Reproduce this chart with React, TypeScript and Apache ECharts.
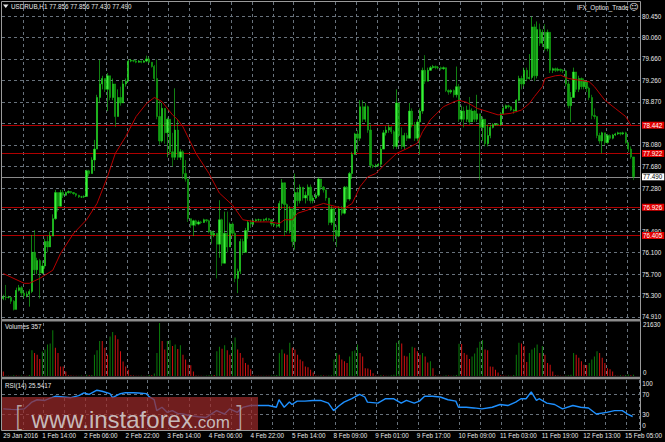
import React, { useEffect, useRef } from "react";
import * as echarts from "echarts";

const SLOTS = 245;
const FIRST_OPEN = 75.25;

const CLOSES = [
  75.28, 75.27, 75.27, 75.2, 75.05, 75.4, 75.45, 75.35, 75.3, 75.33,
  75.38, 76.1, 75.78, 75.95, 75.72, 75.85, 76.3, 76.2, 76.4, 76.72,
  77.2, 76.95, 77.2, 77.15, 77.2, 77.22, 77.2, 77.18, 77.15, 77.12,
  77.12, 77.13, 77.6, 77.55, 77.8, 78.0, 78.95, 79.2, 79.3, 79.1,
  79.35, 78.95, 79.2, 78.6, 78.95, 78.85, 79.2, 79.25, 79.62, 79.63,
  79.62, 79.6, 79.62, 79.6, 79.62, 79.66, 79.6, 79.52, 79.3, 78.6,
  78.15, 78.75, 78.3, 78.55, 77.95, 77.85, 78.35, 77.85, 77.95, 77.55,
  77.45, 76.72, 76.6, 76.68, 76.62, 76.66, 76.65, 76.7, 76.68, 76.48,
  76.42, 76.45, 76.25, 76.7, 75.9, 76.45, 76.2, 76.62, 76.45, 75.62,
  75.75, 76.3, 76.1, 76.5, 76.65, 76.62, 76.68, 76.7, 76.7, 76.69,
  76.7, 76.72, 76.7, 76.62, 76.6, 76.58, 77.0, 77.38, 76.98, 76.5,
  76.9, 76.3, 77.2, 77.05, 77.3, 77.1, 77.15, 77.3, 77.05, 77.1,
  77.15, 77.45, 77.3, 77.25, 77.1, 76.65, 76.9, 76.5, 76.4, 76.9,
  76.82, 77.3, 77.08, 77.55, 77.9, 78.28, 78.2, 78.78, 78.55, 78.78,
  78.35, 77.7, 77.68, 77.7, 77.72, 78.0, 78.3, 78.35, 78.4, 78.32,
  78.05, 78.85, 78.25, 78.05, 78.25, 78.2, 78.7, 78.45, 78.2, 78.5,
  78.7, 79.45, 79.25, 79.45, 79.5, 79.52, 79.5, 79.5, 79.48, 79.5,
  79.08, 79.05, 79.08, 79.0, 79.15, 78.55, 78.7, 78.55, 78.72, 78.5,
  78.7, 78.55, 78.65, 78.4, 78.55, 78.1, 78.25, 78.4, 78.45, 78.46,
  78.45, 78.65, 78.75, 78.8, 78.78, 78.72, 78.7, 78.9, 79.3, 79.2,
  79.45, 79.3, 79.32, 80.25, 79.35, 80.2, 79.95, 80.15, 79.85, 80.15,
  79.45, 79.48, 79.45, 79.47, 79.45, 79.44, 79.2, 78.8, 78.95, 79.42,
  79.1, 79.3, 79.15, 79.25, 79.12, 78.95, 78.62, 78.6, 78.25, 78.15,
  78.3, 78.12, 78.25, 78.2, 78.26, 78.28, 78.3, 78.28, 78.3, 78.12,
  78.0, 77.856, 77.49,
];

const HIGHS = [
  75.32, 75.5, 75.3, 75.28, 75.22, 75.45, 75.5, 75.48, 75.4, 75.38,
  75.42, 76.42, 76.51, 76.0, 75.98, 75.95, 76.35, 76.4, 76.48, 76.8,
  77.25, 77.2, 77.25, 77.25, 77.22, 77.24, 77.23, 77.21, 77.19, 77.16,
  77.14, 77.15, 77.62, 77.62, 77.85, 78.17, 79.0, 79.64, 79.35, 79.3,
  79.4, 79.3, 79.3, 79.2, 79.1, 79.15, 79.27, 79.3, 79.65, 79.66,
  79.65, 79.64, 79.64, 79.63, 79.64, 79.72, 79.7, 79.6, 79.55, 79.65,
  78.9, 78.85, 78.6, 78.58, 78.35, 78.3, 79.12, 78.55, 78.0, 77.98,
  77.8, 77.45, 76.7, 76.7, 76.7, 76.69, 76.68, 76.72, 76.71, 76.7,
  76.5, 76.5, 76.45, 77.06, 76.72, 76.85, 76.85, 76.65, 76.65, 76.5,
  75.8, 76.35, 76.35, 76.55, 76.68, 76.7, 76.7, 76.72, 76.72, 76.71,
  76.72, 76.74, 76.73, 76.71, 76.64, 76.62, 77.05, 77.45, 77.3, 77.0,
  76.95, 76.9, 77.55, 77.3, 77.35, 77.3, 77.22, 77.35, 77.35, 77.15,
  77.2, 77.48, 77.45, 77.32, 77.25, 77.1, 76.95, 76.92, 76.6, 76.95,
  76.95, 77.32, 77.32, 77.58, 77.95, 78.3, 78.35, 78.9, 78.9, 78.85,
  78.8, 78.45, 77.72, 77.73, 77.74, 78.05, 78.35, 78.42, 78.45, 78.42,
  78.35, 79.1, 78.85, 78.4, 78.3, 78.3, 78.85, 78.75, 78.5, 78.55,
  78.75, 79.5, 79.73, 79.5, 79.53, 79.55, 79.54, 79.53, 79.52, 79.52,
  79.5, 79.1, 79.1, 79.1, 79.52, 79.2, 78.8, 78.78, 78.8, 78.96,
  78.75, 78.72, 79.0, 78.6, 78.6, 78.55, 78.45, 78.45, 78.48, 78.48,
  78.48, 78.68, 78.8, 78.82, 78.82, 78.79, 78.74, 78.92, 79.35, 79.35,
  79.5, 79.5, 79.75, 80.44, 80.3, 80.35, 80.31, 80.2, 80.3, 80.2,
  80.15, 79.5, 79.5, 79.5, 79.48, 79.47, 79.46, 79.25, 79.05, 79.5,
  79.42, 79.35, 79.32, 79.3, 79.25, 79.15, 79.0, 78.75, 78.6, 78.3,
  78.32, 78.3, 78.28, 78.27, 78.28, 78.3, 78.32, 78.31, 78.32, 78.32,
  78.12, 78.05, 77.856,
];

const LOWS = [
  75.22, 75.22, 75.25, 75.15, 75.03, 75.05, 75.38, 75.3, 75.25, 75.27,
  75.1, 75.35, 75.7, 75.7, 75.25, 75.7, 75.8, 76.1, 76.25, 76.4,
  76.7, 76.85, 76.95, 77.1, 77.14, 77.18, 77.18, 77.16, 77.12, 77.1,
  77.1, 77.1, 77.12, 77.5, 77.55, 77.6, 78.0, 78.85, 79.1, 79.05,
  78.7, 78.9, 78.9, 78.41, 78.7, 78.8, 78.85, 79.15, 79.25, 79.6,
  79.6, 79.58, 79.59, 79.58, 79.59, 79.6, 79.58, 79.5, 79.25, 78.55,
  78.08, 78.12, 78.1, 77.85, 77.9, 77.68, 77.8, 77.8, 77.8, 77.45,
  77.4, 76.66, 76.55, 76.4, 76.58, 76.6, 76.62, 76.64, 76.65, 76.45,
  76.26, 76.38, 75.62, 76.0, 75.85, 75.95, 76.1, 76.2, 76.4, 75.55,
  75.35, 75.7, 76.05, 76.1, 76.35, 76.55, 76.6, 76.66, 76.67, 76.66,
  76.67, 76.68, 76.68, 76.58, 76.57, 76.55, 76.55, 76.9, 76.4, 76.45,
  76.45, 76.2, 76.15, 76.95, 77.0, 77.05, 77.0, 77.05, 77.0, 77.0,
  77.08, 77.12, 77.25, 77.2, 77.05, 76.6, 76.6, 76.3, 76.2, 76.38,
  76.78, 76.8, 77.02, 77.05, 77.45, 77.9, 77.95, 78.15, 78.5, 78.5,
  78.3, 77.65, 77.65, 77.66, 77.68, 77.68, 78.0, 78.25, 78.3, 78.28,
  78.0, 78.0, 78.15, 78.0, 78.0, 78.15, 78.2, 78.4, 78.15, 78.15,
  77.9, 78.65, 79.2, 79.25, 79.44, 79.48, 79.47, 79.47, 79.45, 79.46,
  79.05, 79.0, 79.02, 78.95, 78.95, 78.5, 78.5, 78.4, 78.5, 78.45,
  78.5, 78.5, 78.5, 77.43, 78.15, 78.05, 78.05, 78.2, 78.38, 78.43,
  78.43, 78.43, 78.64, 78.74, 78.75, 78.7, 78.65, 78.68, 78.88, 79.1,
  79.15, 79.25, 79.28, 79.28, 79.25, 79.3, 79.9, 79.88, 79.8, 79.8,
  79.4, 79.4, 79.42, 79.43, 79.42, 79.4, 79.15, 78.75, 78.5, 78.95,
  79.05, 79.05, 79.1, 79.1, 79.05, 78.9, 78.55, 78.55, 78.2, 78.1,
  77.92, 78.08, 78.1, 78.17, 78.18, 78.24, 78.26, 78.25, 78.26, 78.1,
  77.95, 77.82, 77.43,
];

const VOLUMES = [
  1800,
  150, 100, 120, 300, 250, 150, 200, 150, 120, 400,
  10500, 9400, 8700, 6900, 10000, 10800, 12900, 13300, 18700, 11500, 9400, 3900, 3900, 1800,
  300, 200, 150, 100, 150, 200, 100, 500, 300, 400,
  8700, 10500, 14300, 14300, 11500, 8700, 16100, 18000, 16600, 15000, 10100, 5900, 3900, 2500,
  300, 200, 150, 100, 200, 100, 150, 400, 300, 1000,
  9400, 21630, 14300, 10800, 14300, 14600, 12200, 12900, 11000, 12500, 8700, 6700, 4600, 4400, 1800,
  200, 150, 100, 150, 200, 300, 500, 400,
  10100, 11900, 11100, 12500, 10500, 8700, 13600, 15700, 10800, 9400, 7400, 5300, 4600, 2800,
  200, 150, 100, 100, 150, 120, 100, 200, 300, 400,
  9400, 10800, 9200, 8700, 13600, 11500, 10800, 8700, 6700, 6000, 3900, 3600, 2500, 1400,
  200, 150, 300, 200, 150, 250, 300,
  6700, 9400, 8700, 6700, 6000, 5300, 8000, 10100, 10400, 12900, 9400, 8000, 3200, 3100, 2500, 1100,
  200, 150, 300, 200, 100, 150, 300, 500,
  13600, 14700, 13300, 8300, 8000, 9400, 11900, 11500, 10100, 8700, 9400, 8000, 5500, 6000, 3200,
  200, 150, 100, 150, 300, 200, 150, 250, 400,
  13200, 13100, 9400, 8700, 6900, 8000, 9200, 11500, 14000, 14700, 10800, 10500, 3900, 3800, 2500, 1400,
  300, 200, 150, 200, 150, 400,
  8700, 13600, 13300, 12200, 5700, 9400, 10800, 11500, 12900, 9400, 12200, 8700, 5300, 4600, 1800, 300,
  200, 150, 100, 200, 300, 500,
  9400, 8700, 7400, 6000, 4600, 4500, 5300, 6700, 8000, 10100, 9400, 7400, 5300, 3200, 2800, 1800,
  200, 150, 300, 200, 400, 600, 300, 500,
];
const VOL_MAX = 21630;

const MA_POINTS = [
  [0, 75.71], [8, 75.53], [10, 75.53], [14, 75.62], [19, 75.77], [22, 76.08], [27, 76.45],
  [32, 76.7], [36, 77.0], [40, 77.49], [43, 77.92], [47, 78.23], [51, 78.6], [55, 78.84],
  [58, 78.95], [60, 78.9], [61, 78.87], [65, 78.63], [67, 78.54], [69, 78.41], [74, 77.92],
  [79, 77.55], [83, 77.19], [88, 76.97], [92, 76.7], [97, 76.66], [102, 76.66], [106, 76.63],
  [108, 76.7], [111, 76.7], [113, 76.82], [117, 76.88], [119, 76.94], [123, 77.0], [128, 76.94],
  [131, 76.91], [134, 77.0], [137, 77.31], [140, 77.49], [143, 77.55], [147, 77.74], [151, 77.92],
  [155, 78.01], [159, 78.11], [161, 78.32], [164, 78.54], [169, 78.78], [173, 78.87], [175, 78.9],
  [178, 78.86], [182, 78.75], [188, 78.66], [190, 78.63], [195, 78.66], [199, 78.72], [202, 78.84],
  [204, 78.97], [207, 79.15], [208, 79.3], [212, 79.35], [214, 79.36], [217, 79.3], [221, 79.27],
  [225, 79.24], [227, 79.15], [231, 78.9], [235, 78.75], [239, 78.6], [241, 78.44],
];

const RSI_POINTS = [
  [0, 41], [3, 40], [5, 39.6], [8, 41], [10, 50], [11, 55], [13, 59.7], [16, 58.3], [18, 63],
  [20, 66.7], [23, 65.3], [26, 63.9], [29, 68], [31, 73.6], [33, 70.8], [36, 79.2], [38, 77.1],
  [41, 72.2], [42, 64], [45, 72], [47, 74.3], [50, 74], [52, 73.6], [55, 72.2], [56, 66], [58, 60],
  [59, 37.5], [61, 44.4], [63, 34], [65, 37.5], [67, 32], [69, 30.6], [72, 27.1], [75, 25],
  [78, 23.6], [82, 37.5], [85, 30.6], [87, 41], [90, 34], [92, 44], [95, 47.9], [98, 47.9],
  [102, 47.9], [105, 44.4], [106, 59.7], [108, 44.4], [110, 54.9], [111, 50], [113, 56.9],
  [116, 56.9], [119, 58.3], [122, 58.3], [125, 52.8], [127, 37.5], [129, 47], [131, 54.9],
  [134, 61.8], [137, 70.8], [139, 65.3], [140, 54.9], [144, 52.8], [147, 61.8], [150, 61.8],
  [153, 52.8], [155, 58.3], [158, 52.8], [160, 56.9], [162, 66.7], [165, 66.7], [168, 65.3],
  [171, 59.7], [174, 56.9], [175, 44.4], [178, 44.4], [181, 43], [184, 41], [188, 44.4],
  [191, 50], [194, 47.9], [197, 54.9], [199, 61.8], [201, 61.8], [203, 75.7], [205, 58.3],
  [206, 61.8], [209, 52.8], [212, 50], [215, 41], [219, 47.9], [222, 44.4], [225, 43],
  [228, 30.6], [232, 34], [235, 37.5], [238, 37.5], [240, 30.6], [242, 25.5],
];
const RSI_LEVELS = [70, 30];

const PRICE_TICKS = [80.45, 80.06, 79.66, 79.26, 78.87, 78.48, 78.08, 77.68, 77.28, 76.89, 76.49, 76.1, 75.7, 75.3, 74.91];
const LEVELS = [78.442, 77.922, 76.926, 76.405];
const LAST_PRICE = 77.49;
const PRICE_MIN = 74.873;
const PRICE_MAX = 80.708;

const LABEL_BARS = [0, 15, 31, 47, 63, 79, 95, 111, 127, 143, 159, 175, 191, 207, 223, 239];
const LABEL_TEXT = [
  "29 Jan 2016", "1 Feb 14:00", "2 Feb 06:00", "2 Feb 22:00", "3 Feb 14:00", "4 Feb 06:00",
  "4 Feb 22:00", "5 Feb 14:00", "8 Feb 09:00", "9 Feb 01:00", "9 Feb 17:00", "10 Feb 09:00",
  "11 Feb 03:00", "11 Feb 19:00", "12 Feb 13:00", "15 Feb 05:00",
];

const FONT = "'Liberation Sans', Arial, sans-serif";
const FS = 6.3;
const TXT = "#e8e8e8";
const GRID_LINE = { color: "#68727c", type: [3, 3] as any, width: 1 };

export default function App() {
  const ref = useRef<HTMLDivElement>(null);
  useEffect(() => {
    if (!ref.current) return;
    const chart = echarts.init(ref.current, undefined, { renderer: "svg" });

    const categories = Array.from({ length: SLOTS }, (_, i) => String(i));
    const labelAt: Record<number, string> = {};
    LABEL_BARS.forEach((b, i) => (labelAt[b] = LABEL_TEXT[i]));

    const candles = CLOSES.map((c, i) => {
      const o = i === 0 ? FIRST_OPEN : CLOSES[i - 1];
      const l = Math.min(LOWS[i], o, c);
      const h = Math.max(HIGHS[i], o, c);
      return [o, c, l, h];
    });

    const volData = VOLUMES.map((v, i) => ({
      value: v,
      itemStyle: { color: i > 0 && v > VOLUMES[i - 1] ? "#0b7d0b" : "#d41212" },
    }));

    const nearLevel = (v: number) => LEVELS.concat([LAST_PRICE]).some((l) => Math.abs(l - v) < 0.06);

    const tickLines = PRICE_TICKS.map((v) => ({
      name: v.toFixed(3),
      yAxis: v,
      lineStyle: GRID_LINE,
      label: { show: !nearLevel(v), color: TXT },
    }));
    const levelLines = LEVELS.map((v) => ({
      name: v.toFixed(3),
      yAxis: v,
      lineStyle: { color: "#b00000", type: "solid", width: 1 },
      label: { show: true, color: "#ffffff", backgroundColor: "#e00000", padding: [1, 2, 0, 1] },
    }));
    const lastLine = {
      name: LAST_PRICE.toFixed(3),
      yAxis: LAST_PRICE,
      lineStyle: { color: "#8a8a8a", type: "solid", width: 1 },
      label: { show: true, color: "#000000", backgroundColor: "#ffffff", padding: [1, 2, 0, 1] },
    };

    const xAxisFor = (g: number) => ({
      type: "category",
      gridIndex: g,
      data: categories,
      boundaryGap: true,
      axisLine: { show: false },
      axisTick: { show: false },
      axisLabel:
        g === 2
          ? {
              show: true,
              interval: 0,
              align: "left",
              margin: 3,
              color: TXT,
              fontSize: FS,
              fontFamily: FONT,
              formatter: (v: string) => labelAt[Number(v)] ?? "",
            }
          : { show: false },
      splitLine: { show: true, interval: (i: number) => i > 0 && i % 8 === 0, lineStyle: GRID_LINE },
    });

    const sideLabel = {
      show: true, margin: 3, color: TXT, fontSize: FS, fontFamily: FONT,
      rich: {
        lo: { fontSize: FS, fontFamily: FONT, color: TXT, padding: [0, 0, 7, 0] },
        hi: { fontSize: FS, fontFamily: FONT, color: TXT, padding: [6, 0, 0, 0] },
        mid: { fontSize: FS, fontFamily: FONT, color: TXT, padding: [2, 0, 0, 0] },
      },
    };

    const option: any = {
      animation: false,
      backgroundColor: "#000000",
      title: [
        { text: "USDRUB,H1 77.856 77.856 77.430 77.490", left: 11, top: 3, padding: 0,
          textStyle: { color: TXT, fontSize: FS, fontWeight: "normal", fontFamily: FONT } },
        { text: "IFX_Option_Trade", left: 577, top: 4, padding: 0,
          textStyle: { color: TXT, fontSize: FS, fontWeight: "normal", fontFamily: FONT } },
        { text: "Volumes 357", left: 5, top: 323, padding: 0,
          textStyle: { color: TXT, fontSize: FS, fontWeight: "normal", fontFamily: FONT } },
        { text: "RSI(14) 25.5417", left: 5, top: 382, padding: 0,
          textStyle: { color: TXT, fontSize: FS, fontWeight: "normal", fontFamily: FONT } },
      ],
      grid: [
        { left: 2, top: 2, width: 638, height: 317 },
        { left: 2, top: 323, width: 638, height: 53 },
        { left: 2, top: 380, width: 638, height: 49 },
      ],
      xAxis: [xAxisFor(0), xAxisFor(1), xAxisFor(2)],
      yAxis: [
        { type: "value", gridIndex: 0, min: PRICE_MIN, max: PRICE_MAX, show: false },
        {
          type: "value", gridIndex: 1, position: "right", min: 0, max: VOL_MAX, interval: VOL_MAX,
          axisLine: { show: false }, axisTick: { show: false }, splitLine: { show: false },
          axisLabel: { ...sideLabel, formatter: (v: number) => (v === 0 ? "{lo|0}" : "{mid|" + v + "}") },
        },
        {
          type: "value", gridIndex: 2, position: "right", min: 0, max: 100, interval: 100,
          axisLine: { show: false }, axisTick: { show: false }, splitLine: { show: false },
          axisLabel: { ...sideLabel, formatter: (v: number) => (v === 0 ? "{lo|0}" : "{hi|" + v + "}") },
        },
      ],
      series: [
        {
          type: "candlestick",
          xAxisIndex: 0,
          yAxisIndex: 0,
          data: candles,
          barWidth: 1.8,
          z: 3,
          itemStyle: {
            color: "#3cf03c",
            color0: "#13a013",
            borderColor: "#1ed81e",
            borderColor0: "#12b012",
            borderWidth: 0.6,
          },
          markLine: {
            silent: true,
            animation: false,
            z: 1,
            symbol: ["none", "none"],
            label: { position: "end", distance: 2, formatter: "{b}", fontSize: FS, fontFamily: FONT },
            data: [...tickLines, lastLine, ...levelLines],
          },
        },
        {
          type: "line",
          xAxisIndex: 0,
          yAxisIndex: 0,
          data: MA_POINTS,
          symbol: "none",
          z: 4,
          lineStyle: { color: "#b80000", width: 1 },
        },
        {
          type: "bar",
          xAxisIndex: 1,
          yAxisIndex: 1,
          data: volData,
          barWidth: 1,
        },
        {
          type: "line",
          xAxisIndex: 2,
          yAxisIndex: 2,
          data: RSI_POINTS,
          symbol: "none",
          lineStyle: { color: "#1e90ff", width: 1.4 },
          markLine: {
            silent: true,
            animation: false,
            z: 1,
            symbol: ["none", "none"],
            lineStyle: GRID_LINE,
            label: { position: "end", distance: 3, formatter: "{b}", color: TXT, fontSize: FS, fontFamily: FONT },
            data: RSI_LEVELS.map((v) => ({ name: String(v), yAxis: v })),
          },
        },
      ],
      graphic: [
        { type: "rect", z: 50, silent: true, shape: { x: 1.5, y: 1.5, width: 639, height: 429 },
          style: { fill: "none", stroke: "#9a9a9a", lineWidth: 1 } },
        { type: "rect", z: 50, silent: true, shape: { x: 1, y: 319, width: 640, height: 2.5 },
          style: { fill: "#8c8c8c" } },
        { type: "rect", z: 50, silent: true, shape: { x: 1, y: 376.8, width: 640, height: 2.5 },
          style: { fill: "#8c8c8c" } },
        { type: "polygon", z: 50, silent: true, shape: { points: [[3, 4.5], [8.5, 4.5], [5.75, 8]] },
          style: { fill: "#e8e8e8" } },
        { type: "text", z: 50, silent: true, x: 629, y: 2,
          style: { text: "\u263A", fill: "#e8e8e8", font: "9px 'DejaVu Sans'" } },
        { type: "rect", z: 100, silent: true, shape: { x: 2, y: 397, width: 256, height: 33 },
          style: { fill: "rgba(155, 42, 42, 0.72)" } },
        {
          type: "text", z: 101, silent: true, x: 14, y: 431,
          style: {
            text: "{b|[}  {a|www.instaforex}{c|.com} {b|]}",
            verticalAlign: "bottom",
            rich: {
              a: { fontSize: 24, fontFamily: "'Liberation Sans', Arial, sans-serif", fill: "rgba(215,215,215,0.85)", verticalAlign: "bottom" },
              c: { fontSize: 17, fontFamily: "'Liberation Sans', Arial, sans-serif", fill: "rgba(215,215,215,0.85)", verticalAlign: "bottom" },
              b: { fontSize: 28, fontFamily: "'DejaVu Sans', sans-serif", fontWeight: 200, fill: "rgba(200,200,200,0.8)", verticalAlign: "bottom" },
            },
          },
        },
      ],
    };

    chart.setOption(option);
    return () => chart.dispose();
  }, []);

  return (
    <div style={{ position: "absolute", left: 0, top: 0, width: 665, height: 442, background: "#000" }}>
      <div ref={ref} style={{ width: 665, height: 442 }} />
    </div>
  );
}
